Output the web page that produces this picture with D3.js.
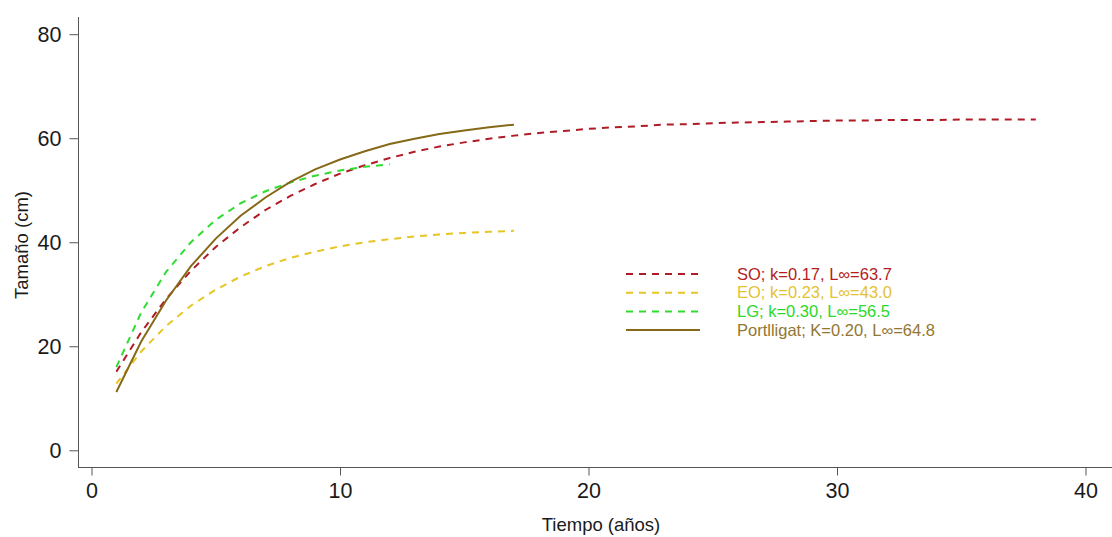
<!DOCTYPE html>
<html>
<head>
<meta charset="utf-8">
<script src="https://cdn.jsdelivr.net/npm/d3@7"></script>
<style>
  body { margin: 0; background: #fff; }
  text { font-family: Arial, "Liberation Sans", sans-serif; }
</style>
</head>
<body>
<svg id="chart" width="1112" height="537"></svg>
<script>
// ages (years) and sizes (cm)
const agesSO = d3.range(1, 39);
const sizesSO = [15.1, 22.7, 29.1, 34.5, 39.1, 42.9, 46.2, 48.9, 51.2, 53.2, 54.8, 56.2, 57.4, 58.4,
  59.2, 59.9, 60.5, 61.0, 61.4, 61.8, 62.1, 62.3, 62.6, 62.7, 62.9, 63.0, 63.1, 63.2, 63.3, 63.4,
  63.4, 63.5, 63.5, 63.5, 63.6, 63.6, 63.6, 63.6];
const agesEO = d3.range(1, 18);
const sizesEO = [12.8, 19.0, 23.9, 27.8, 30.9, 33.4, 35.4, 37.0, 38.2, 39.2, 40.0, 40.6, 41.1, 41.5, 41.8, 42.0, 42.2];
const agesLG = d3.range(1, 13);
const sizesLG = [16.0, 26.5, 34.3, 40.0, 44.3, 47.5, 49.8, 51.5, 52.8, 53.8, 54.5, 55.0];
const agesPort = d3.range(1, 18);
const sizesPort = [11.2, 20.9, 28.8, 35.4, 40.7, 45.1, 48.6, 51.6, 54.0, 55.9, 57.5, 58.9, 59.9, 60.8, 61.5, 62.1, 62.6];

const seriesNames = ["SO", "EO", "LG", "Portlligat"];
const legendLabels = ["SO; k=0.17, L\u221e=63.7", "EO; k=0.23, L\u221e=43.0", "LG; k=0.30, L\u221e=56.5", "Portlligat; K=0.20, L\u221e=64.8"];
const xTicks = [0, 10, 20, 30, 40];
const yTicks = [0, 20, 40, 60, 80];

const lineColors = { SO: "#b01c26", EO: "#e6c524", LG: "#2fdc2f", Portlligat: "#866918" };
const textColors = { SO: "#b41c22", EO: "#e3c235", LG: "#2bd82b", Portlligat: "#927632" };
const dashes = { SO: "7,6", EO: "7,6", LG: "7,6", Portlligat: null };

const series = [
  { name: "SO", ages: agesSO, sizes: sizesSO },
  { name: "EO", ages: agesEO, sizes: sizesEO },
  { name: "LG", ages: agesLG, sizes: sizesLG },
  { name: "Portlligat", ages: agesPort, sizes: sizesPort }
];

const svg = d3.select("#chart");
const axisLeftX = 78.5, axisBottomY = 467.5, axisTopY = 17;

const x = d3.scaleLinear().domain([0, 40]).range([91.5, 1085.5]);
const y = d3.scaleLinear().domain([0, 80]).range([450.3, 34.2]);

// axes
const xAxis = svg.append("g")
  .attr("transform", `translate(0,${axisBottomY})`)
  .call(d3.axisBottom(x).tickValues(xTicks).tickSize(8).tickPadding(7).tickSizeOuter(0));
const yAxis = svg.append("g")
  .attr("transform", `translate(${axisLeftX},0)`)
  .call(d3.axisLeft(y).tickValues(yTicks).tickSize(9).tickPadding(8).tickSizeOuter(0));

[xAxis, yAxis].forEach(a => {
  a.select(".domain").remove();
  a.selectAll(".tick line").attr("stroke", "#555");
  a.selectAll(".tick text").attr("font-size", 21.5).attr("fill", "#1a1a1a")
    .attr("font-family", "Arial, 'Liberation Sans', sans-serif");
});

svg.append("line")
  .attr("x1", axisLeftX - 0.5).attr("x2", 1112)
  .attr("y1", axisBottomY).attr("y2", axisBottomY)
  .attr("stroke", "#555");
svg.append("line")
  .attr("x1", axisLeftX).attr("x2", axisLeftX)
  .attr("y1", axisTopY).attr("y2", axisBottomY)
  .attr("stroke", "#555");

// axis titles
svg.append("text")
  .attr("x", 601).attr("y", 531)
  .attr("text-anchor", "middle")
  .attr("font-size", 18.5)
  .attr("fill", "#1a1a1a")
  .text("Tiempo (años)");
svg.append("text")
  .attr("transform", "translate(28,245) rotate(-90)")
  .attr("text-anchor", "middle")
  .attr("font-size", 18.5)
  .attr("fill", "#1a1a1a")
  .text("Tamaño (cm)");

// growth curves
const line = d3.line()
  .x(d => x(d[0]))
  .y(d => y(d[1]));

series.forEach(s => {
  const pts = s.ages.map((a, i) => [a, s.sizes[i]]);
  svg.append("path")
    .attr("d", line(pts))
    .attr("fill", "none")
    .attr("stroke", lineColors[s.name])
    .attr("stroke-width", 2)
    .attr("stroke-dasharray", dashes[s.name]);
});

// legend
const legend = svg.append("g");
seriesNames.forEach((name, i) => {
  const yy = 274 + i * 18.7;
  legend.append("line")
    .attr("x1", 626).attr("x2", 700)
    .attr("y1", yy).attr("y2", yy)
    .attr("stroke", lineColors[name])
    .attr("stroke-width", 2)
    .attr("stroke-dasharray", dashes[name]);
  legend.append("text")
    .attr("x", 737).attr("y", yy + 5.5)
    .attr("font-size", 16.5)
    .attr("fill", textColors[name])
    .text(legendLabels[i]);
});
</script>
</body>
</html>
